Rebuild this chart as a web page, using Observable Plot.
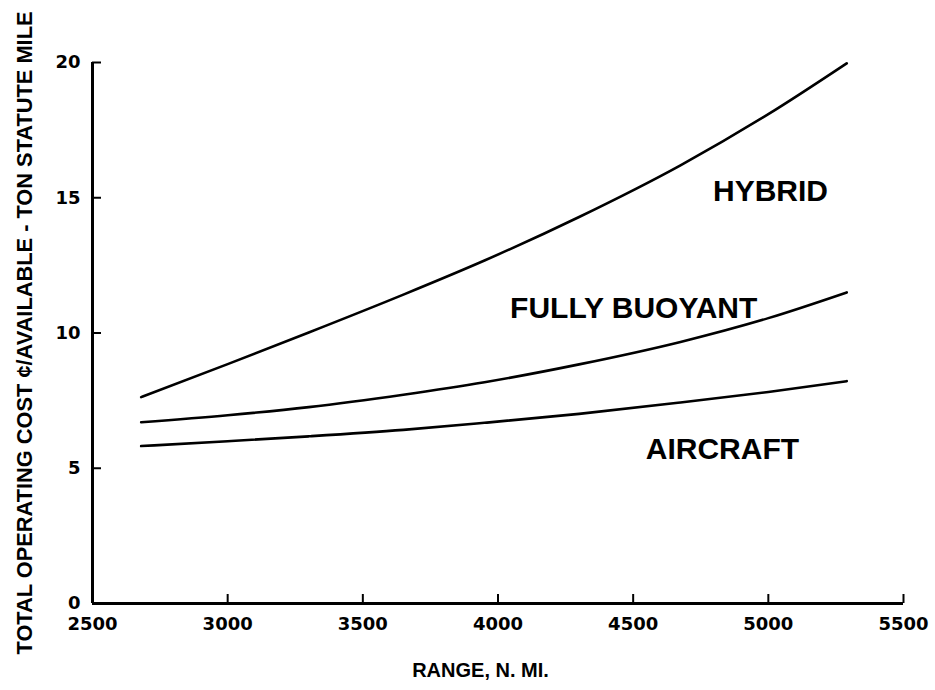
<!DOCTYPE html>
<html>
<head>
<meta charset="utf-8">
<script src="https://cdn.jsdelivr.net/npm/d3@7"></script>
<script src="https://cdn.jsdelivr.net/npm/@observablehq/plot@0.6"></script>
<style>
  html, body { margin: 0; padding: 0; background: #fff; }
  #chart svg { display: block; }
</style>
</head>
<body>
<div id="chart"></div>
<script>
// ---- data ----
const range = [2680, 3000, 3300, 3650, 3950, 4300, 4675, 5000, 5290];
const hybrid = [7.63, 8.85, 10.02, 11.42, 12.68, 14.29, 16.20, 18.09, 19.97];
const fullyBuoyant = [6.70, 6.96, 7.26, 7.72, 8.18, 8.84, 9.67, 10.55, 11.50];
const aircraft = [5.82, 6.00, 6.18, 6.42, 6.68, 7.01, 7.43, 7.82, 8.22];

const seriesNames = ["HYBRID", "FULLY BUOYANT", "AIRCRAFT"];
const labelX = [5008, 4502, 4830];
const labelY = [15.25, 10.9, 5.7];

const xTicks = [2500, 3000, 3500, 4000, 4500, 5000, 5500];
const yTicks = [0, 5, 10, 15, 20];
const xTitle = "RANGE, N. MI.";
const yTitle = "TOTAL OPERATING COST ¢/AVAILABLE - TON STATUTE MILE";

// ---- build table ----
const seriesValues = [hybrid, fullyBuoyant, aircraft];
const rows = [];
seriesNames.forEach((name, i) => {
  range.forEach((r, j) => rows.push({series: name, range: r, cost: seriesValues[i][j]}));
});
const labels = seriesNames.map((name, i) => ({name, x: labelX[i], y: labelY[i]}));

const sans = "'Liberation Sans', Arial, Helvetica, sans-serif";

const chart = Plot.plot({
  width: 935,
  height: 690,
  marginLeft: 92,
  marginRight: 32,
  marginTop: 62,
  marginBottom: 87,
  style: {background: "#fff", color: "#000", fontFamily: sans},
  x: {domain: [2500, 5500]},
  y: {domain: [0, 20]},
  marks: [
    Plot.axisX(xTicks, {
      tickSize: -9, tickPadding: 23, strokeWidth: 2,
      fontSize: 18, fontWeight: "bold", fontFamily: "'DejaVu Sans', sans-serif",
      tickFormat: d => String(d), label: null
    }),
    Plot.axisY(yTicks, {
      tickSize: -9, tickPadding: 21, strokeWidth: 2,
      fontSize: 18, fontWeight: "bold", fontFamily: "'DejaVu Sans', sans-serif",
      tickFormat: d => String(d), label: null
    }),
    Plot.ruleX([2500], {strokeWidth: 3, stroke: "#000"}),
    Plot.ruleY([0], {strokeWidth: 3, stroke: "#000"}),
    Plot.line(rows, {
      x: "range", y: "cost", z: "series",
      curve: "monotone-x", stroke: "#000", strokeWidth: 2.6
    }),
    Plot.text(labels, {
      x: "x", y: "y", text: "name",
      fontSize: 30, fontWeight: "bold", fontFamily: sans, fill: "#000"
    }),
    Plot.text([yTitle], {
      text: d => d, frameAnchor: "left", textAnchor: "middle", lineAnchor: "middle",
      rotate: -90, dx: -67.5,
      fontSize: 21.8, fontWeight: "bold", fontFamily: sans, fill: "#000"
    }),
    Plot.text([xTitle], {
      text: d => d, frameAnchor: "bottom", textAnchor: "middle", lineAnchor: "middle",
      dy: 67.5, dx: -17.5,
      fontSize: 20, fontWeight: "bold", fontFamily: sans, fill: "#000"
    })
  ]
});
document.getElementById("chart").appendChild(chart);
</script>
</body>
</html>
